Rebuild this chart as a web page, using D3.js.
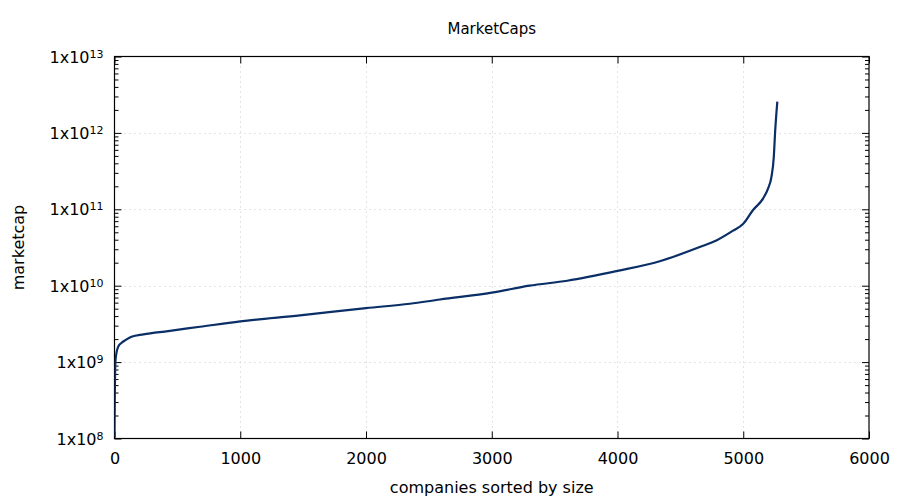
<!DOCTYPE html>
<html>
<head>
<meta charset="utf-8">
<script src="https://cdn.jsdelivr.net/npm/d3@7"></script>
<style>
  body { margin: 0; background: #fff; }
  text { font-family: "DejaVu Sans", sans-serif; fill: #000; }
</style>
</head>
<body>
<script>
// ---- data ----
const ranks = [0, 2, 7, 15, 30, 55, 90, 135, 230, 427, 680, 1000, 1475, 2000, 2349, 2588,
               3000, 3300, 3600, 4000, 4336, 4654, 4790, 4919, 4998, 5078, 5157, 5197,
               5224, 5243, 5253, 5271];
const marketCaps = [1.05e8, 2.9e8, 1.0e9, 1.3e9, 1.6e9, 1.78e9, 1.95e9, 2.14e9, 2.31e9, 2.55e9,
                    2.9e9, 3.41e9, 4.1e9, 5.1e9, 5.8e9, 6.6e9,
                    8.1e9, 1.0e10, 1.16e10, 1.56e10, 2.09e10, 3.21e10, 3.94e10, 5.25e10,
                    6.4e10, 9.8e10, 1.38e11, 1.87e11, 2.65e11, 4.86e11, 1.0e12, 2.57e12];
const xTickValues = [0, 1000, 2000, 3000, 4000, 5000, 6000];
const yTickValues = [1e8, 1e9, 1e10, 1e11, 1e12, 1e13];
const yTickExponents = ["8", "9", "10", "11", "12", "13"];
const chartTitle = "MarketCaps";
const xTitle = "companies sorted by size";
const yTitle = "marketcap";

// ---- layout ----
const W = 900, H = 500;
const pL = 114.5, pR = 869, pT = 56.5, pB = 438.5;

const svg = d3.select("body").append("svg").attr("width", W).attr("height", H);

const x = d3.scaleLinear().domain([0, 6000]).range([pL, pR]);
const y = d3.scaleLog().domain([1e8, 1e13]).range([pB, pT]);

const minorY = [];
for (let k = 8; k < 13; k++) for (let m = 2; m <= 9; m++) minorY.push(m * Math.pow(10, k));

// grid
const grid = svg.append("g").attr("stroke", "#c8c8c8").attr("stroke-width", 1)
  .attr("stroke-dasharray", "1,4");
grid.selectAll(".gx").data(xTickValues.slice(1, -1)).enter().append("line")
  .attr("x1", d => Math.round(x(d)) + 0.5).attr("x2", d => Math.round(x(d)) + 0.5)
  .attr("y1", pT).attr("y2", pB);
grid.selectAll(".gy").data(yTickValues.slice(1, -1)).enter().append("line")
  .attr("y1", d => Math.round(y(d)) + 0.5).attr("y2", d => Math.round(y(d)) + 0.5)
  .attr("x1", pL).attr("x2", pR);

// axes (ticks inward)
function styleAxis(g) {
  g.select(".domain").remove();
  g.selectAll(".tick line").attr("stroke", "#000").attr("stroke-width", 1);
}
svg.append("g").attr("transform", `translate(0,${pB})`)
  .call(d3.axisBottom(x).tickValues(xTickValues).tickSize(-7).tickPadding(14.6).tickFormat(d3.format("d")))
  .call(styleAxis)
  .call(g => g.selectAll("text").attr("font-size", 16).attr("font-family", "DejaVu Sans, sans-serif").attr("fill", "#000"));
svg.append("g").attr("transform", `translate(0,${pT})`)
  .call(d3.axisTop(x).tickValues(xTickValues).tickSize(-7).tickFormat(""))
  .call(styleAxis);
svg.append("g").attr("transform", `translate(${pL},0)`)
  .call(d3.axisLeft(y).tickValues(yTickValues).tickSize(-7).tickFormat(""))
  .call(styleAxis);
svg.append("g").attr("transform", `translate(${pL},0)`)
  .call(d3.axisLeft(y).tickValues(minorY).tickSize(-4).tickFormat(""))
  .call(styleAxis);
svg.append("g").attr("transform", `translate(${pR},0)`)
  .call(d3.axisRight(y).tickValues(yTickValues).tickSize(-7).tickFormat(""))
  .call(styleAxis);
svg.append("g").attr("transform", `translate(${pR},0)`)
  .call(d3.axisRight(y).tickValues(minorY).tickSize(-4).tickFormat(""))
  .call(styleAxis);

// y tick labels 1x10^k
const yl = svg.append("g");
yTickValues.forEach((v, i) => {
  const t = yl.append("text").attr("x", 103.5).attr("y", y(v) + 6)
    .attr("text-anchor", "end").attr("font-size", 16);
  t.append("tspan").text("1x10");
  t.append("tspan").attr("font-size", 11).attr("dy", -5).text(yTickExponents[i]);
});

// frame
svg.append("rect").attr("x", pL).attr("y", pT)
  .attr("width", pR - pL).attr("height", pB - pT)
  .attr("fill", "none").attr("stroke", "#000").attr("stroke-width", 1.2);

// line
svg.append("clipPath").attr("id", "clip").append("rect")
  .attr("x", pL).attr("y", pT).attr("width", pR - pL).attr("height", pB - pT);
const data = ranks.map((r, i) => ({ r, v: marketCaps[i] }));
svg.append("path").datum(data)
  .attr("clip-path", "url(#clip)")
  .attr("fill", "none").attr("stroke", "#0a2e66").attr("stroke-width", 2.2)
  .attr("stroke-linejoin", "round")
  .attr("d", d3.line().x(d => x(d.r)).y(d => y(d.v)).curve(d3.curveMonotoneX));

// titles
svg.append("text").attr("x", (pL + pR) / 2).attr("y", 34)
  .attr("text-anchor", "middle").attr("font-size", 15).text(chartTitle);
svg.append("text").attr("x", (pL + pR) / 2).attr("y", 493)
  .attr("text-anchor", "middle").attr("font-size", 16).text(xTitle);
svg.append("text").attr("transform", "translate(23.5,247.5) rotate(-90)")
  .attr("text-anchor", "middle").attr("font-size", 16).text(yTitle);
</script>
</body>
</html>
